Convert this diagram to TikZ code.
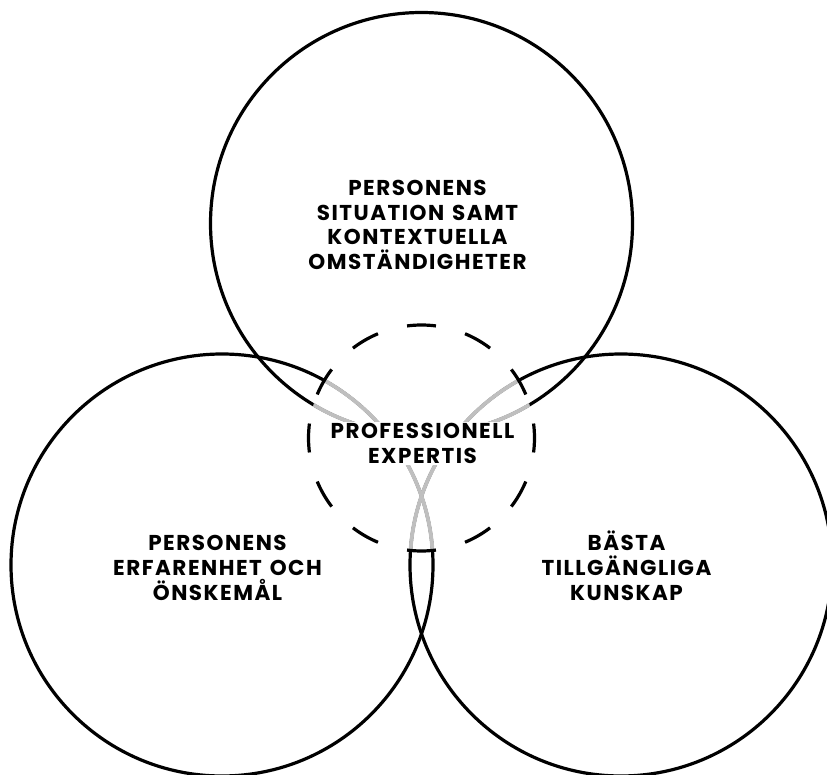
\documentclass[tikz,border=0pt]{standalone}
\usepackage{fontspec}
\newfontfamily\lblfont{Poppins}[LetterSpace=7,WordSpace=1.3]
\begin{document}
\begin{tikzpicture}[x=1pt,y=-1pt,
  ring/.style={line width=3.2pt, draw=black},
  innerring/.style={line width=3.8pt, draw=black!25},
  lbl/.style={font=\lblfont\bfseries\fontsize{21.5}{25}\selectfont, inner sep=0pt, anchor=base}]
\useasboundingbox (0,0) rectangle (827,775);
\coordinate (T) at (421.5,223.5);
\coordinate (L) at (222,565);
\coordinate (R) at (621,565);
\coordinate (D) at (421.5,438);
% big circles
\foreach \c in {T,L,R} \draw[ring] (\c) circle[radius=211];
% grey parts inside the dashed circle
\begin{scope}
  \clip (D) circle[radius=113];
  \foreach \c in {T,L,R} \draw[innerring] (\c) circle[radius=211];
\end{scope}
% white ground of the centre text
\node[fill=white, minimum width=194, minimum height=43, inner sep=0pt] (cbg) at (421.5,443) {};
% texts
\node[lbl] (t1) at (417.5,196) {PERSONENS};
\node[lbl] (t2) at (417.5,220.5) {SITUATION SAMT};
\node[lbl] (t3) at (417.5,245) {KONTEXTUELLA};
\node[lbl] (t4) at (417.5,269.5) {OMSTÄNDIGHETER};
\node[lbl] (c1) at (422.5,438) {PROFESSIONELL};
\node[lbl] (c2) at (422.5,463) {EXPERTIS};
\node[lbl] (l1) at (217.5,550) {PERSONENS};
\node[lbl] (l2) at (217.5,575) {ERFARENHET OCH};
\node[lbl] (l3) at (217.5,600) {ÖNSKEMÅL};
\node[lbl] (r1) at (626.5,550) {BÄSTA};
\node[lbl] (r2) at (626.5,575) {TILLGÄNGLIGA};
\node[lbl] (r3) at (626.5,600) {KUNSKAP};
% dashed circle
\foreach \a in {0,30,...,330}
  \draw[ring] (D) ++(\a-7.35:113) arc[start angle=\a-7.35, end angle=\a+7.35, radius=113];
\end{tikzpicture}
\end{document}
